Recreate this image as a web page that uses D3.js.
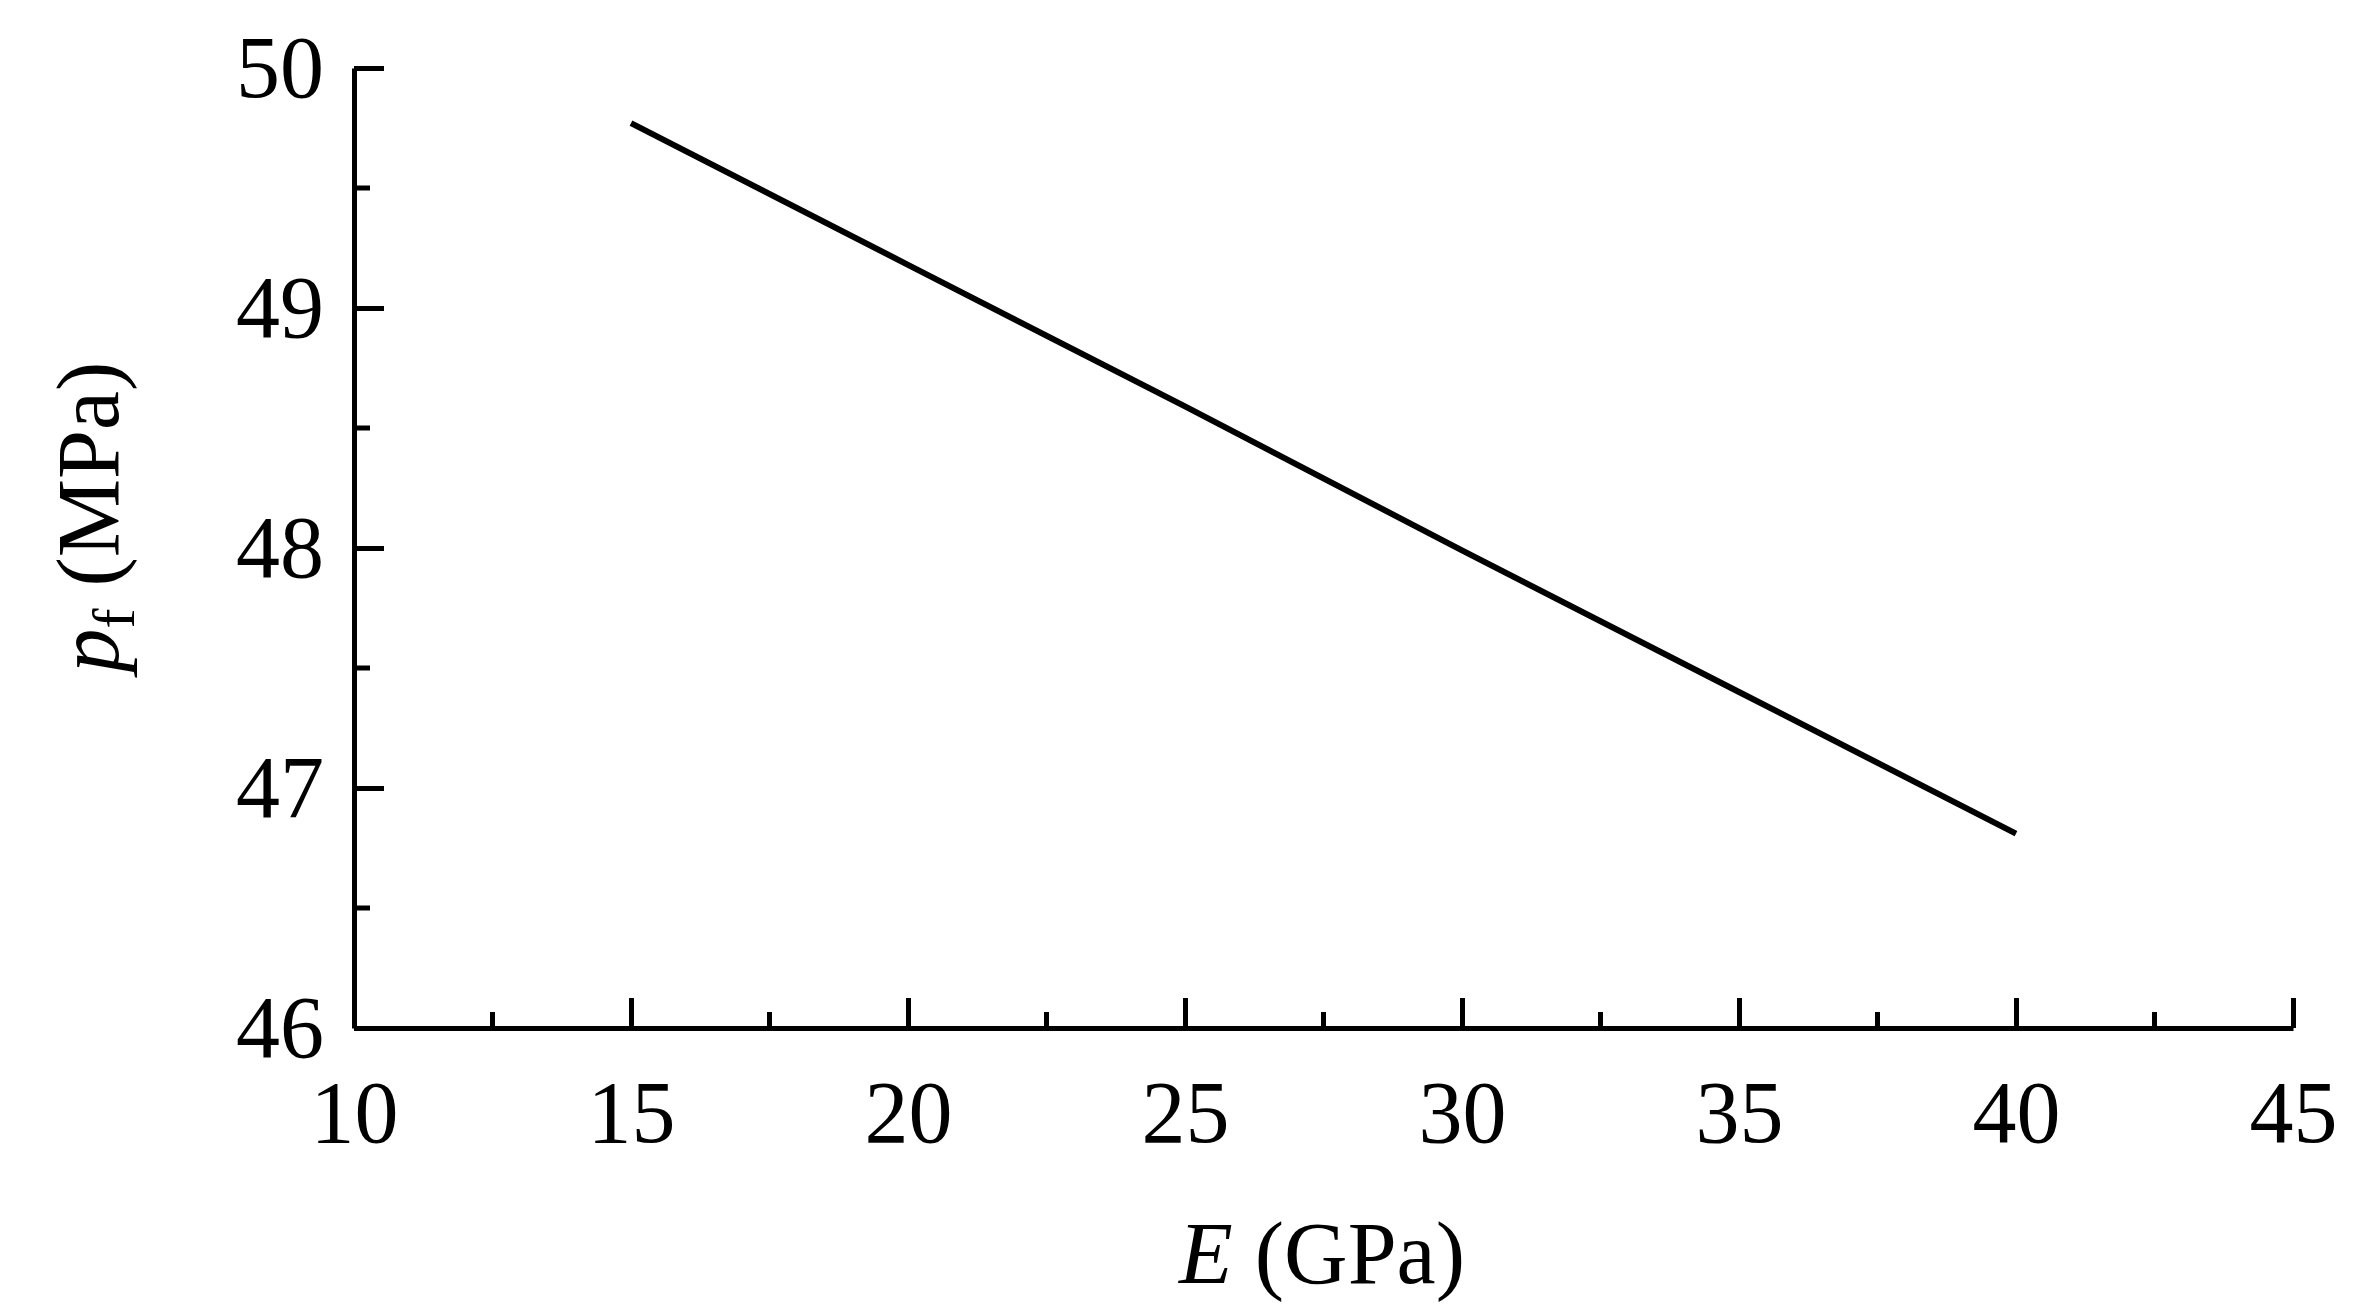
<!DOCTYPE html>
<html><head><meta charset="utf-8">
<script src="https://cdn.jsdelivr.net/npm/d3@7"></script>
<style>body{margin:0;background:#fff}text{font-family:"Liberation Serif","Times New Roman",serif;fill:#000}</style>
</head><body><svg id="c" width="2371" height="1309"></svg>
<script>
var eValues = [15, 20, 25, 30, 35, 40];
var pfValues = [49.77, 49.18, 48.59, 47.99, 47.40, 46.81];
var xTicks = [10, 15, 20, 25, 30, 35, 40, 45];
var yTicks = [46, 47, 48, 49, 50];

var svg = d3.select("#c");
var x = d3.scaleLinear().domain([10, 45]).range([354, 2293]);
var y = d3.scaleLinear().domain([46, 50]).range([1028, 68]);

// minor ticks
var xMinor = d3.range(12.5, 45, 5), yMinor = d3.range(46.5, 50, 1);
svg.append("g").selectAll("line").data(xMinor).join("line")
  .attr("x1", x).attr("x2", x).attr("y1", y(46)).attr("y2", y(46) - 16)
  .attr("stroke", "#000").attr("stroke-width", 5);
svg.append("g").selectAll("line").data(yMinor).join("line")
  .attr("y1", y).attr("y2", y).attr("x1", x(10)).attr("x2", x(10) + 16)
  .attr("stroke", "#000").attr("stroke-width", 5);

var xAxis = svg.append("g").attr("transform", "translate(0," + y(46) + ")")
  .call(d3.axisBottom(x).tickValues(xTicks).tickSizeInner(-30).tickSizeOuter(0).tickPadding(52));
var yAxis = svg.append("g").attr("transform", "translate(" + x(10) + ",0)")
  .call(d3.axisLeft(y).tickValues(yTicks).tickFormat(d3.format("d")).tickSizeInner(-30).tickSizeOuter(0).tickPadding(30));
[xAxis, yAxis].forEach(function(a) {
  a.selectAll("path,line").attr("stroke", "#000").attr("stroke-width", 5);
  a.selectAll("text").style("font-family", "Liberation Serif").style("font-size", "88px").attr("fill", "#000");
});

svg.append("path").datum(eValues.map(function(e, i) { return [e, pfValues[i]]; }))
  .attr("fill", "none").attr("stroke", "#000").attr("stroke-width", 6)
  .attr("d", d3.line().x(function(d) { return x(d[0]); }).y(function(d) { return y(d[1]); }));

var xl = svg.append("text").attr("x", 1322).attr("y", 1283).attr("text-anchor", "middle").style("font-size", "88px");
xl.append("tspan").attr("font-style", "italic").text("E");
xl.append("tspan").text(" (GPa)");

var yl = svg.append("text").attr("transform", "translate(118,517) rotate(-90)").attr("text-anchor", "middle").style("font-size", "88px");
yl.append("tspan").attr("font-style", "italic").text("p");
yl.append("tspan").attr("dy", 16).style("font-size", "60px").text("f");
yl.append("tspan").attr("dy", -16).text(" (MPa)");
</script></body></html>
